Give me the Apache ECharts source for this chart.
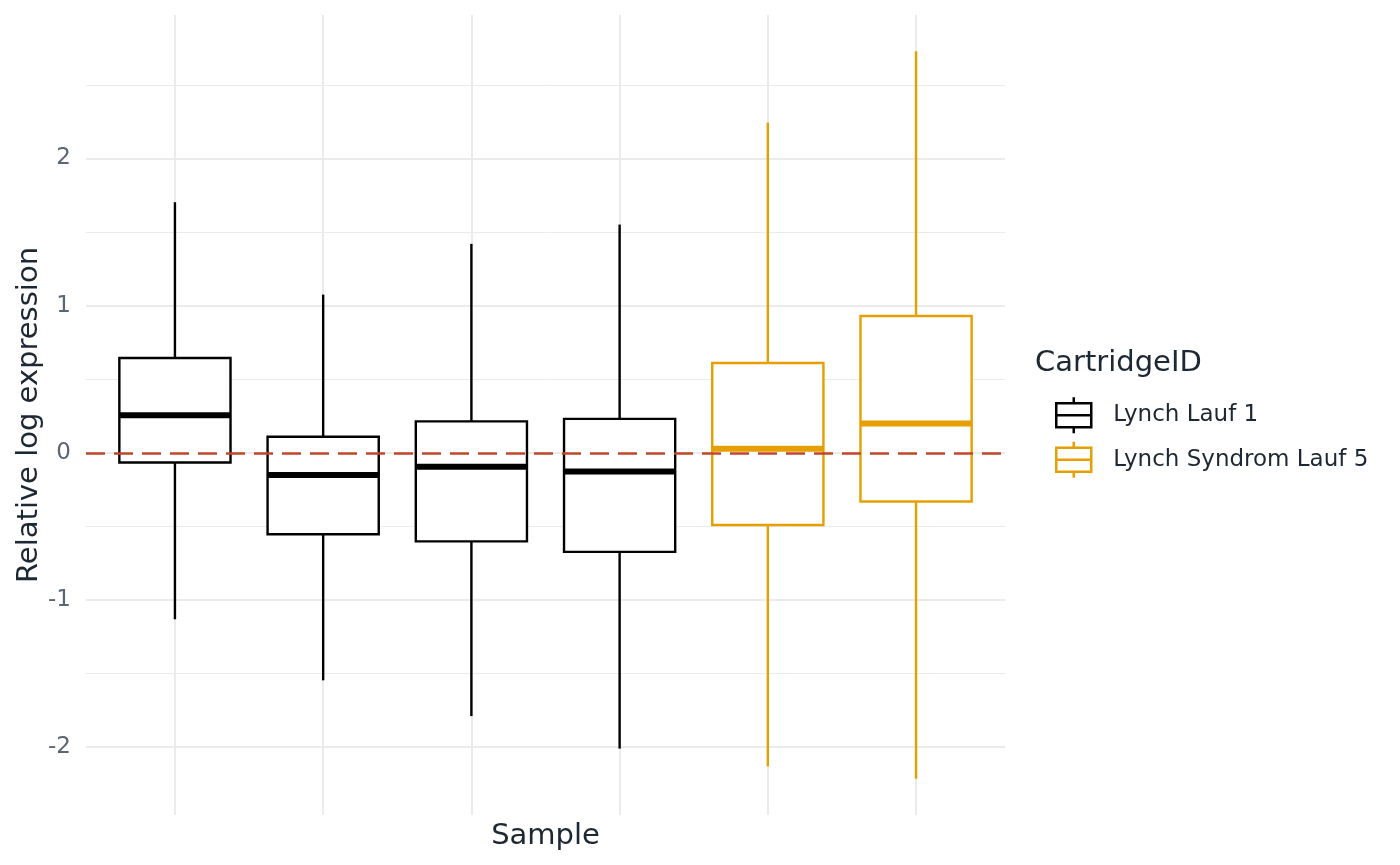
<!DOCTYPE html>
<html>
<head>
<meta charset="utf-8">
<title>Relative log expression</title>
<script src="https://cdn.jsdelivr.net/npm/echarts@6/dist/echarts.min.js"></script>
<style>
    html, body { margin: 0; padding: 0; background: #ffffff; }
    #rle { width: 1400px; height: 865px; }
</style>
</head>
<body>
<div id="rle"></div>
<script>
// samples, one box each
var samples = [1, 2, 3, 4, 5, 6];
var cartridges = ['Lynch Lauf 1', 'Lynch Lauf 1', 'Lynch Lauf 1', 'Lynch Lauf 1',
    'Lynch Syndrom Lauf 5', 'Lynch Syndrom Lauf 5'];
var whiskerLow  = [-1.131, -1.546, -1.789, -2.010, -2.131, -2.214];
var quartile1   = [-0.066, -0.553, -0.602, -0.673, -0.490, -0.331];
var medians     = [ 0.256, -0.150, -0.095, -0.127,  0.027,  0.200];
var quartile3   = [ 0.644,  0.109,  0.214,  0.231,  0.610,  0.930];
var whiskerHigh = [ 1.703,  1.075,  1.420,  1.551,  2.244,  2.728];
var majorTicks = [-2, -1, 0, 1, 2];
var minorTicks = [-1.5, -0.5, 0.5, 1.5, 2.5];
var groups = ['Lynch Lauf 1', 'Lynch Syndrom Lauf 5'];
var groupColors = ['#000000', '#E69F00'];

var font = 'DejaVu Sans';
var gridColor = '#EBEBEB';

// ggplot style 5% expansion of the y range
var lo = Math.min.apply(null, whiskerLow);
var hi = Math.max.apply(null, whiskerHigh);
var yMin = lo - (hi - lo) * 0.05;
var yMax = hi + (hi - lo) * 0.05;

function boxData(group) {
    var rows = [];
    for (var i = 0; i < samples.length; i++) {
        if (cartridges[i] !== group) continue;
        rows.push([samples[i], whiskerLow[i], quartile1[i], medians[i], quartile3[i], whiskerHigh[i]]);
    }
    return rows;
}

function renderBox(params, api) {
    var x = api.value(0);
    var half = api.size([0.75, 0])[0] / 2;
    var pLow = api.coord([x, api.value(1)]);
    var pQ1 = api.coord([x, api.value(2)]);
    var pMed = api.coord([x, api.value(3)]);
    var pQ3 = api.coord([x, api.value(4)]);
    var pHigh = api.coord([x, api.value(5)]);
    var color = api.visual('color');
    return {
        type: 'group',
        children: [
            {type: 'line', shape: {x1: pHigh[0], y1: pHigh[1], x2: pQ3[0], y2: pQ3[1]},
                style: {stroke: color, lineWidth: 2.4}},
            {type: 'line', shape: {x1: pQ1[0], y1: pQ1[1], x2: pLow[0], y2: pLow[1]},
                style: {stroke: color, lineWidth: 2.4}},
            {type: 'rect', shape: {x: pQ3[0] - half, y: pQ3[1], width: half * 2, height: pQ1[1] - pQ3[1]},
                style: {fill: '#ffffff', stroke: color, lineWidth: 2.4}},
            {type: 'line', shape: {x1: pMed[0] - half, y1: pMed[1], x2: pMed[0] + half, y2: pMed[1]},
                style: {stroke: color, lineWidth: 6}}
        ]
    };
}

var boxIcon = 'path://M0,6 L35,6 L35,30 L0,30 Z M0,18 L35,18 M17.5,0 L17.5,6 M17.5,30 L17.5,36';

var series = [{
    // reference line at zero, under the boxes
    name: 'zero',
    type: 'line',
    data: [],
    z: 1,
    markLine: {
        silent: true,
        symbol: ['none', 'none'],
        label: {show: false},
        lineStyle: {color: '#C1462B', width: 2.5, type: [19, 9]},
        data: [{yAxis: 0}]
    }
}];
groups.forEach(function (g, k) {
    series.push({
        name: g,
        type: 'custom',
        z: 3,
        itemStyle: {color: groupColors[k]},
        encode: {x: 0, y: [1, 2, 3, 4, 5]},
        renderItem: renderBox,
        data: boxData(g)
    });
});

var option = {
    backgroundColor: '#ffffff',
    animation: false,
    title: {
        text: 'CartridgeID',
        left: 1035,
        top: 349,
        padding: 0,
        textStyle: {fontFamily: font, fontSize: 29, fontWeight: 'normal', color: '#1C2833'}
    },
    legend: {
        orient: 'vertical',
        left: 1055,
        top: 396,
        padding: 0,
        itemWidth: 35,
        itemHeight: 36,
        itemGap: 6,
        textStyle: {fontFamily: font, fontSize: 23, color: '#1C2833', padding: [0, 0, 0, 17]},
        data: groups.map(function (g, k) {
            return {
                name: g,
                icon: boxIcon,
                itemStyle: {color: 'rgba(0,0,0,0)', borderColor: groupColors[k], borderWidth: 2.5}
            };
        })
    },
    grid: {left: 86, right: 395, top: 15, bottom: 50},
    xAxis: {
        type: 'value',
        min: 0.4,
        max: 6.6,
        name: 'Sample',
        nameLocation: 'middle',
        nameGap: 7,
        nameTextStyle: {fontFamily: font, fontSize: 29, color: '#1C2833', verticalAlign: 'top'},
        axisLine: {show: false},
        axisTick: {show: false, customValues: samples},
        axisLabel: {show: false, customValues: samples},
        splitLine: {show: true, lineStyle: {color: gridColor, width: 2}}
    },
    yAxis: [{
        type: 'value',
        min: yMin,
        max: yMax,
        name: 'Relative log expression',
        nameLocation: 'middle',
        nameRotate: 90,
        nameGap: 42,
        nameMoveOverlap: false,
        nameTextStyle: {fontFamily: font, fontSize: 29, color: '#1C2833'},
        axisLine: {show: false},
        axisTick: {show: false, customValues: majorTicks},
        axisLabel: {customValues: majorTicks, fontFamily: font, fontSize: 23, color: '#5A6672', margin: 15},
        splitLine: {show: true, lineStyle: {color: gridColor, width: 2}}
    }, {
        type: 'value',
        min: yMin,
        max: yMax,
        position: 'left',
        axisLine: {show: false},
        axisTick: {show: false, customValues: minorTicks},
        axisLabel: {show: false, customValues: minorTicks},
        splitLine: {show: true, lineStyle: {color: gridColor, width: 1}}
    }],
    series: series
};

var chart = echarts.init(document.getElementById('rle'));
chart.setOption(option);
</script>
</body>
</html>
